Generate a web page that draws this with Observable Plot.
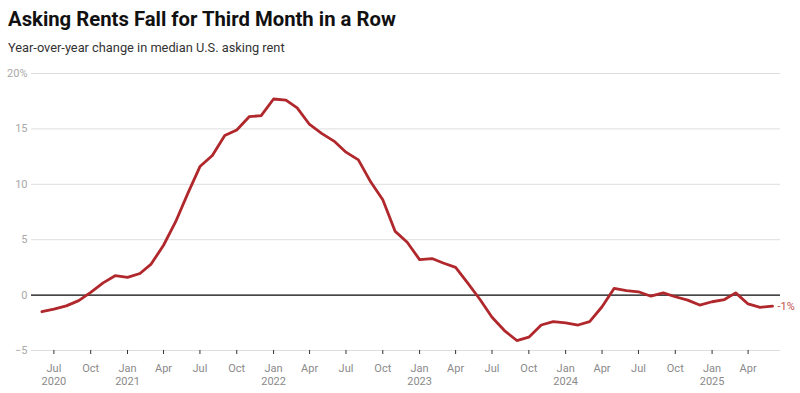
<!DOCTYPE html>
<html>
<head>
<meta charset="utf-8">
<script src="https://cdn.jsdelivr.net/npm/d3@7"></script>
<script src="https://cdn.jsdelivr.net/npm/@observablehq/plot@0.6"></script>
<style>
  html, body { margin: 0; padding: 0; background: #fff; }
  body { width: 800px; height: 393px; overflow: hidden; font-family: Roboto, "Noto Sans", sans-serif; }
  #title { position: absolute; left: 8px; top: 7px; font-size: 20.3px; font-weight: 700; color: #111; }
  #subtitle { position: absolute; left: 8px; top: 40px; font-size: 12.8px; color: #333; }
  #chart { position: absolute; left: 0; top: 60px; }
</style>
</head>
<body>
<div id="title">Asking Rents Fall for Third Month in a Row</div>
<div id="subtitle">Year-over-year change in median U.S. asking rent</div>
<div id="chart"></div>
<script>
const months = [
  "2020-06","2020-07","2020-08","2020-09","2020-10","2020-11","2020-12",
  "2021-01","2021-02","2021-03","2021-04","2021-05","2021-06","2021-07","2021-08","2021-09","2021-10","2021-11","2021-12",
  "2022-01","2022-02","2022-03","2022-04","2022-05","2022-06","2022-07","2022-08","2022-09","2022-10","2022-11","2022-12",
  "2023-01","2023-02","2023-03","2023-04","2023-05","2023-06","2023-07","2023-08","2023-09","2023-10","2023-11","2023-12",
  "2024-01","2024-02","2024-03","2024-04","2024-05","2024-06","2024-07","2024-08","2024-09","2024-10","2024-11","2024-12",
  "2025-01","2025-02","2025-03","2025-04","2025-05","2025-06"
];
const rentChange = [
  -1.5, -1.27, -0.97, -0.5, 0.25, 1.1, 1.75,
  1.6, 1.95, 2.8, 4.5, 6.6, 9.2, 11.6, 12.6, 14.4, 14.9, 16.1, 16.2,
  17.7, 17.6, 16.9, 15.4, 14.6, 13.9, 12.9, 12.2, 10.2, 8.6, 5.75, 4.77,
  3.2, 3.3, 2.9, 2.5, 1.1, -0.4, -2.0, -3.2, -4.1, -3.8, -2.7, -2.4,
  -2.5, -2.7, -2.4, -1.05, 0.6, 0.4, 0.3, -0.1, 0.2, -0.15, -0.45, -0.9,
  -0.6, -0.4, 0.2, -0.8, -1.1, -1.0
];
const xTicks = [
  "2020-07","2020-10","2021-01","2021-04","2021-07","2021-10",
  "2022-01","2022-04","2022-07","2022-10","2023-01","2023-04","2023-07","2023-10",
  "2024-01","2024-04","2024-07","2024-10","2025-01","2025-04"
];
const yTicks = [-5, 0, 5, 10, 15, 20];
const endLabel = "-1%";

const parse = d3.utcParse("%Y-%m");
const data = months.map((m, i) => ({date: parse(m), value: rentChange[i]}));
const tickDates = xTicks.map(parse);
const last = data[data.length - 1];

const monthFmt = d3.utcFormat("%b");
const yearFmt = d3.utcFormat("%Y");

const chart = Plot.plot({
  width: 800,
  height: 333,
  marginTop: 13,
  marginBottom: 43,
  marginLeft: 31,
  marginRight: 20,
  style: {fontFamily: "Roboto, 'Noto Sans', sans-serif", fontSize: "11px", background: "#fff"},
  x: {type: "utc", domain: [new Date(Date.UTC(2020, 4, 6)), new Date(Date.UTC(2025, 5, 21))]},
  y: {domain: [-5, 20]},
  marks: [
    Plot.gridY(yTicks, {stroke: "#dedede", strokeOpacity: 1, strokeWidth: 1}),
    Plot.axisY(yTicks, {
      tickSize: 0, tickPadding: 4, fill: "#a8a8a8", fontSize: 11,
      tickFormat: d => d === 20 ? "20%" : (d < 0 ? "\u2212" + Math.abs(d) : String(d)),
      label: null
    }),
    Plot.axisX(tickDates, {
      tickSize: 4, stroke: "#333", tickPadding: 8, fill: "#8a8a8a", fontSize: 11, lineHeight: 1.2, label: null,
      tickFormat: (d, i) => {
        const m = monthFmt(d);
        return (i === 0 || d.getUTCMonth() === 0) ? m + "\n" + yearFmt(d) : m;
      }
    }),
    Plot.ruleY([0], {stroke: "#111", strokeWidth: 1.2}),
    Plot.line(data, {x: "date", y: "value", stroke: "#b0272c", strokeWidth: 2.8, strokeLinejoin: "round", strokeLinecap: "round"}),
    Plot.text([last], {x: "date", y: "value", text: () => endLabel, dx: 5, textAnchor: "start", fill: "#c0504d", fontSize: 11})
  ]
});
document.getElementById("chart").appendChild(chart);
</script>
</body>
</html>
